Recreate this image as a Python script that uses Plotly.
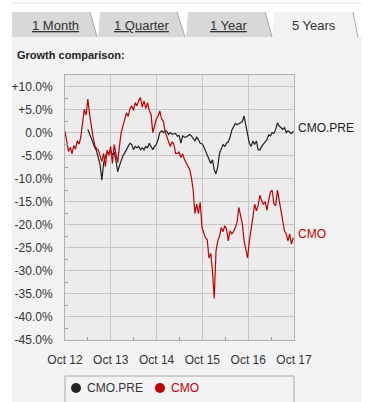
import plotly.graph_objects as go
import pandas as pd

# ---------------- data ----------------
dates = pd.date_range("2012-10-01", periods=131, freq="14D")

cmo = [0.3, -2.2, -4.1, -3.2, -4.6, -2.8, -3.6, -1.8, -2.5, -1.0,
       2.5, 5.1, 3.8, 7.3, 4.0, 1.0, -1.0, -2.8, -3.5, -3.8,
       -5.2, -6.3, -4.5, -7.4, -3.8, -5.0, -3.0, -6.7, -2.6, -5.0,
       -6.5, -3.0, 0.0, 1.4, 2.9, 4.3, 3.5, 5.2, 5.8, 4.8,
       6.5, 5.8, 7.0, 7.6, 5.5, 6.9, 5.2, 6.5, 4.8, 4.0,
       0.0, 1.8, 2.9, 3.5, 4.7, 3.0, 2.5, 0.3, -1.0, -2.0,
       -3.0, -2.0, -2.5, -4.5, -4.5, -4.2, -5.4, -4.6, -5.8, -6.5,
       -7.2, -8.0, -9.8, -12.5, -17.6, -15.5, -17.6, -15.1, -20.6, -22.0,
       -22.8, -23.2, -27.2, -26.2, -30.1, -36.0, -25.7, -23.5, -22.5, -20.6,
       -21.5, -20.2, -21.0, -23.5, -21.3, -22.0, -21.5, -20.6, -19.5, -16.2,
       -18.4, -19.8, -23.5, -25.5, -27.2, -23.5, -21.3, -18.4, -15.5, -17.0,
       -15.8, -13.6, -14.8, -15.5, -15.0, -16.9, -14.7, -12.9, -12.5, -15.5,
       -15.8, -12.5, -14.7, -16.9, -18.4, -21.3, -22.0, -23.5, -22.0, -24.2,
       -22.8]

cmo_pre = [None] * 13 + [
       0.7, -0.3, -1.5, -2.5, -3.3, -4.0, -5.9, -7.0, -10.3, -6.6,
       -5.2, -4.2, -4.5, -4.0, -4.8, -4.2, -6.0, -8.5, -7.2, -5.9,
       -5.0, -4.4, -3.7, -3.0, -2.3, -2.6, -3.7, -3.0, -3.3, -3.0,
       -3.7, -3.3, -3.7, -3.0, -3.3, -2.3, -3.0, -3.7, -3.0, -2.6,
       -1.5, 0.0, 0.4, 0.0, 0.4, 0.3, -0.4, 0.0, -0.4, -0.3,
       -0.2, -0.8, -0.6, -2.3, -0.7, -1.0, -1.0, -0.7, -0.4, -0.7,
       -1.2, -1.8, -1.0, -1.5, -2.3, -2.4, -3.0, -4.0, -5.0, -5.6,
       -6.7, -5.9, -8.1, -8.9, -7.4, -4.5, -3.7, -2.6, -3.0, -2.3,
       -2.0, -1.0, 0.5, 1.4, 2.0, 1.7, 2.0, 2.2, 2.4, 3.6,
       1.5, -0.7, -2.3, -3.0, -1.8, -2.6, -1.8, -3.7, -3.8, -3.0,
       -2.4, -2.0, -1.6, -0.5, -0.7, 0.0, -0.2, 0.7, 2.1, 1.4,
       1.1, 0.7, 1.1, 0.0, 0.4, 0.0, -0.2, 0.3]

x_tick_vals = ["2012-10-01", "2013-10-01", "2014-10-01", "2015-10-01", "2016-10-01", "2017-10-01"]
x_tick_text = ["Oct 12", "Oct 13", "Oct 14", "Oct 15", "Oct 16", "Oct 17"]
x_minor_vals = ["2013-04-01", "2014-04-01", "2015-04-01", "2016-04-01", "2017-04-01"]
y_tick_vals = [10, 5, 0, -5, -10, -15, -20, -25, -30, -35, -40, -45]
y_tick_text = ["+10.0%", "+5.0%", "0.0%", "-5.0%", "-10.0%", "-15.0%", "-20.0%",
               "-25.0%", "-30.0%", "-35.0%", "-40.0%", "-45.0%"]
y_minor_vals = [7.5, 2.5, -2.5, -7.5, -12.5, -17.5, -22.5, -27.5, -32.5, -37.5, -42.5]
tabs = ["1 Month", "1 Quarter", "1 Year", "5 Years"]
series_names = ["CMO.PRE", "CMO"]

# ---------------- style ----------------
W_FIG, H_FIG = 376, 402
L, R, T, B = 65, 82, 75, 62
PW, PH = W_FIG - L - R, H_FIG - T - B
FONT = "Liberation Sans, Arial, sans-serif"
BLACK = "#222222"
RED = "#c00000"
PANEL = "#f3f3f3"
PLOTBG = "#ececec"
GRID = "#c6c6c6"


def px(x):
    return (x - L) / PW


def py(y):
    return (T + PH - y) / PH


fig = go.Figure()
fig.add_trace(go.Scatter(x=dates, y=cmo_pre, mode="lines", name=series_names[0],
                         line=dict(color=BLACK, width=1.2), connectgaps=False))
fig.add_trace(go.Scatter(x=dates, y=cmo, mode="lines", name=series_names[1],
                         line=dict(color=RED, width=1.2)))

shapes = []
# panel
shapes.append(dict(type="rect", xref="paper", yref="paper", x0=px(12), x1=px(362),
                   y0=py(37), y1=py(404), fillcolor=PANEL, line=dict(width=0), layer="below"))
# plot background
shapes.append(dict(type="rect", xref="paper", yref="paper", x0=0, x1=1, y0=0, y1=1,
                   fillcolor=PLOTBG, line=dict(width=0), layer="below"))
# top thin line
shapes.append(dict(type="line", xref="paper", yref="paper", x0=px(12), x1=px(362),
                   y0=py(3), y1=py(3), line=dict(color="#e4e4e4", width=1)))
# tabs: (bottom-left, top-left, top-right, bottom-right)
tab_geo = [(12, 12, 90, 97), (98, 100, 177, 185), (186, 188, 265, 272), (272, 274, 353, 358)]
for i, (bl, tl, tr, br) in enumerate(tab_geo):
    active = i == 3
    path = "M {},{} L {},{} L {},{} L {},{} Z".format(px(bl), py(37), px(tl), py(12),
                                                       px(tr), py(12), px(br), py(37))
    shapes.append(dict(type="path", xref="paper", yref="paper", path=path,
                       fillcolor=PANEL if active else "#d8d8d8",
                       line=dict(width=0), layer="below"))
    shapes.append(dict(type="line", xref="paper", yref="paper", x0=px(tr), y0=py(12),
                       x1=px(br), y1=py(37), line=dict(color="#a8a8a8", width=1)))
# legend box
shapes.append(dict(type="rect", xref="paper", yref="paper", x0=px(65), x1=px(294),
                   y0=py(376), y1=py(405), fillcolor=PANEL,
                   line=dict(color="#a8a8a8", width=1), layer="below"))
for cx, col in [(76, BLACK), (160, RED)]:
    shapes.append(dict(type="circle", xref="paper", yref="paper", x0=px(cx - 5), x1=px(cx + 5),
                       y0=py(383), y1=py(393), fillcolor=col, line=dict(width=0)))

ann = []
tab_cx = [55, 142, 229, 314]
for i, t in enumerate(tabs):
    txt = t if i == 3 else "<u>" + t + "</u>"
    ann.append(dict(text=txt, xref="paper", yref="paper", x=px(tab_cx[i]), y=py(25),
                    xanchor="center", yanchor="middle", showarrow=False,
                    font=dict(family=FONT, size=13, color="#333333")))
ann.append(dict(text="<b>Growth comparison:</b>", xref="paper", yref="paper", x=px(15), y=py(55),
                xanchor="left", yanchor="middle", showarrow=False,
                font=dict(family=FONT, size=11, color="#222222")))
# end labels
ann.append(dict(text=series_names[0], x=dates[-1], y=cmo_pre[-1], xref="x", yref="y",
                xanchor="left", yanchor="middle", xshift=3, yshift=3, showarrow=False,
                font=dict(family=FONT, size=12, color=BLACK)))
ann.append(dict(text=series_names[1], x=dates[-1], y=cmo[-1], xref="x", yref="y",
                xanchor="left", yanchor="middle", xshift=3, yshift=4, showarrow=False,
                font=dict(family=FONT, size=12, color=RED)))
# legend texts
ann.append(dict(text=series_names[0], xref="paper", yref="paper", x=px(85), y=py(388),
                xanchor="left", yanchor="middle", showarrow=False,
                font=dict(family=FONT, size=12, color="#333333")))
ann.append(dict(text=series_names[1], xref="paper", yref="paper", x=px(169), y=py(388),
                xanchor="left", yanchor="middle", showarrow=False,
                font=dict(family=FONT, size=12, color=RED)))

fig.update_layout(
    width=W_FIG, height=H_FIG,
    margin=dict(l=L, r=R, t=T, b=B, pad=0),
    paper_bgcolor="white", plot_bgcolor=PLOTBG,
    showlegend=False,
    shapes=shapes, annotations=ann,
    font=dict(family=FONT, size=12, color="#333333"),
    xaxis=dict(type="date", range=[x_tick_vals[0], x_tick_vals[-1]],
               tickmode="array", tickvals=x_tick_vals, ticktext=x_tick_text,
               showgrid=True, gridcolor=GRID, gridwidth=1,
               showline=True, linecolor="#b0b0b0", mirror=True,
               ticks="", ticklabelstandoff=9, zeroline=False,
               tickfont=dict(family=FONT, size=12, color="#333333"),
               minor=dict(tickmode="array", tickvals=x_minor_vals, ticks="inside",
                          ticklen=3, tickcolor="#9a9a9a", showgrid=False)),
    yaxis=dict(range=[-45, 12.5], tickmode="array", tickvals=y_tick_vals, ticktext=y_tick_text,
               showgrid=True, gridcolor=GRID, gridwidth=1,
               showline=True, linecolor="#b0b0b0", mirror=True,
               ticks="", ticklabelstandoff=9, zeroline=False,
               tickfont=dict(family=FONT, size=12, color="#333333"),
               minor=dict(tickmode="array", tickvals=y_minor_vals, ticks="inside",
                          ticklen=3, tickcolor="#9a9a9a", showgrid=False)),
)

fig.write_html("out.html", config={"displayModeBar": False},
               post_script="document.body.style.margin='0';")
